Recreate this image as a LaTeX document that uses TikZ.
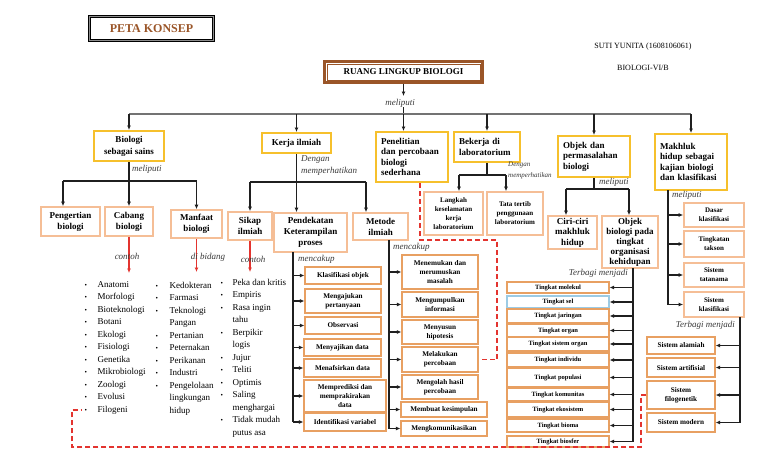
\documentclass[tikz,border=0pt]{standalone}
\usepackage{fontspec}
\setmainfont{Liberation Serif}
\usetikzlibrary{arrows.meta}
\definecolor{gold}{HTML}{F6C02C}
\definecolor{peach}{HTML}{F5BE96}
\definecolor{orng}{HTML}{E8A062}
\definecolor{brn}{HTML}{9A5528}
\definecolor{redd}{HTML}{E3342F}
\definecolor{lbl}{HTML}{3A3A3A}
\definecolor{skyb}{HTML}{9CCBE4}
\newcommand\lbul{{\fontsize{7}{7}\selectfont\textbullet}}
\begin{document}
\begin{tikzpicture}[x=1pt,y=-1pt,
  ln/.style={draw=black!88, line width=1.3pt},
  arr/.style={ln, -{Latex[length=4.5pt,width=4pt]}},
  bus/.style={draw=black!55, line width=1.8pt},
  rarr/.style={draw=redd, line width=1.2pt, -{Latex[length=4.5pt,width=4pt]}},
  rdash/.style={draw=redd, line width=1.6pt, dash pattern=on 5pt off 3pt},
  lab/.style={font=\itshape\fontsize{9}{12}\selectfont, text=lbl, inner sep=0pt},
  l1/.style={draw=gold, line width=2pt, font=\bfseries\fontsize{9}{12}\selectfont, align=center, inner sep=0pt},
  l1l/.style={draw=gold, line width=2pt, font=\bfseries\fontsize{9}{10.6}\selectfont, align=left, inner xsep=5pt, inner ysep=0pt},
  l2/.style={draw=peach, line width=1.6pt, font=\bfseries\fontsize{9}{11}\selectfont, align=center, inner sep=0pt},
  l2s/.style={draw=peach, line width=1.6pt, font=\bfseries\fontsize{7}{9}\selectfont, align=center, inner sep=0pt},
  l3/.style={draw=orng, line width=1.2pt, font=\bfseries\fontsize{7.2}{9}\selectfont, align=center, inner sep=0pt},
  tk/.style={draw=orng, line width=1.1pt, font=\bfseries\fontsize{6.5}{8}\selectfont, inner sep=0pt, minimum width=102pt},
  lst/.style={font=\fontsize{9}{12.5}\selectfont, inner sep=0pt, anchor=north west},
]
\fill[white] (0,0) rectangle (768,466);
\useasboundingbox (0,0) rectangle (768,466);

% header
\node[draw=black, line width=0.9pt, double=black!45, double distance=1.6pt, minimum width=124pt, minimum height=24pt, font=\bfseries\fontsize{12}{14}\selectfont, text=brn] (peta) at (151.5,28.5) {PETA KONSEP};
\node[font=\fontsize{8}{10}\selectfont] (suti) at (643,47) {SUTI YUNITA (1608106061)};
\node[font=\fontsize{8}{10}\selectfont] (kelas) at (643,68) {BIOLOGI-VI/B};
\node[draw=brn, line width=2.4pt, minimum width=158pt, minimum height=21pt, font=\bfseries\fontsize{9}{11}\selectfont] (ruang) at (403.5,72) {RUANG LINGKUP BIOLOGI};
\draw[brn, line width=0.6pt] ([shift={(3.5,3.5)}]ruang.north west) rectangle ([shift={(-3.5,-3.5)}]ruang.south east);

% top level boxes
\node[l1, minimum width=70pt, minimum height=30pt] (bss) at (129,146) {Biologi\\sebagai sains};
\node[l1, minimum width=69pt, minimum height=20pt] (kerja) at (296.5,143) {Kerja ilmiah};
\node[l1l, text width=62pt, minimum height=50pt] (pen) at (412,157) {Penelitian\\dan percobaan\\biologi\\sederhana};
\node[l1l, text width=56pt, minimum height=30pt] (bek) at (487,147) {Bekerja di\\laboratorium};
\node[l1l, text width=62pt, minimum height=41pt] (obj) at (594,156.5) {Objek dan\\permasalahan\\biologi};
\node[l1l, text width=62pt, minimum height=56pt] (mkh) at (691,162) {Makhluk\\hidup sebagai\\kajian biologi\\dan klasifikasi};

% top connectors
\coordinate (m0) at (403.5,96);
\draw[arr] (ruang.south) -- (m0);
\node[lab] (mel0) at (400,103) {meliputi};
\coordinate (busc) at (403.5,114);
\coordinate (busL) at (129,114);
\coordinate (busR) at (691,114);
\draw[ln] (mel0.south -| busc) -- (busc);
\draw[bus] (busL) -- (busR);
\draw[arr] (bss.north |- busL) -- (bss.north);
\draw[arr] (kerja.north |- busL) -- (kerja.north);
\draw[arr] (busc) -- (busc |- pen.north);
\draw[arr] (bek.north |- busL) -- (bek.north);
\draw[arr] (obj.north |- busL) -- (obj.north);
\draw[arr] (mkh.north |- busL) -- (mkh.north);

% Biologi sebagai sains
\node[l2, minimum width=59pt, minimum height=29pt] (peng) at (70.5,221.5) {Pengertian\\biologi};
\node[l2, minimum width=48pt, minimum height=29pt] (cab) at (129,221.5) {Cabang\\biologi};
\node[l2, minimum width=51pt, minimum height=28pt] (manf) at (196.5,224) {Manfaat\\biologi};
\coordinate (b1) at (129,181);
\coordinate (b1L) at (63,181);
\coordinate (b1R) at (196.5,181);
\draw[ln] (bss.south) -- (b1);
\node[lab, anchor=west] (mel1) at (132,169) {meliputi};
\draw[ln] (b1L) -- (b1R);
\draw[arr] (b1L) -- (b1L |- peng.north);
\draw[arr] (b1) -- (cab.north);
\draw[arr] (b1R) -- (manf.north);

\coordinate (r1) at (129,273);
\coordinate (r2) at (196.5,272);
\coordinate (r3) at (250,272);
\draw[rarr] (cab.south) -- (r1);
\draw[rarr] (manf.south) -- (r2);
\node[lab] (ct1) at (127,256) {contoh};
\node[lab] (ct2) at (208,257) {di bidang};

% Kerja ilmiah
\node[l2, minimum width=44pt, minimum height=28pt] (sikap) at (250,226) {Sikap\\ilmiah};
\node[l2, minimum width=73pt, minimum height=39pt] (pend) at (310.5,232.5) {Pendekatan\\Keterampilan\\proses};
\node[l2, minimum width=55pt, minimum height=27pt] (met) at (380.5,226.5) {Metode\\ilmiah};
\coordinate (k1) at (296.5,182);
\coordinate (k1L) at (250,182);
\coordinate (k1R) at (366,182);
\draw[ln] (kerja.south) -- (k1);
\node[lab, anchor=west, align=left] (dm1) at (301,166) {Dengan\\memperhatikan};
\draw[ln] (k1L) -- (k1R);
\draw[arr] (k1L) -- (sikap.north);
\draw[arr] (k1) -- (k1 |- pend.north);
\draw[arr] (k1R) -- (k1R |- met.north);
\draw[rarr] (sikap.south) -- (r3);
\node[lab] (ct3) at (253,259) {contoh};

% Bekerja di laboratorium
\node[l2s, minimum width=59pt, minimum height=43pt] (lang) at (453.5,213.5) {Langkah\\keselamatan\\kerja\\laboratorium};
\node[l2s, minimum width=56pt, minimum height=43pt] (tata) at (515,213.5) {Tata tertib\\penggunaan\\laboratorium};
\coordinate (e1) at (487,175);
\coordinate (e1L) at (459,175);
\coordinate (e1R) at (506,175);
\draw[ln, line width=2pt] (bek.south) -- (e1);
\draw[ln] (e1L) -- (e1R);
\draw[arr] (e1L) -- (e1L |- lang.north);
\draw[arr] (e1R) -- (e1R |- tata.north);
\node[lab, anchor=west, align=left, font=\itshape\fontsize{7}{11}\selectfont] (dm2) at (508,170.5) {Dengan\\memperhatikan};

% Objek dan permasalahan
\node[l2, minimum width=49pt, minimum height=33pt, font=\bfseries\fontsize{9}{10.5}\selectfont] (ciri) at (572.5,232.5) {Ciri-ciri\\makhluk\\hidup};
\node[l2, minimum width=56pt, minimum height=52pt, font=\bfseries\fontsize{9}{10}\selectfont] (objb) at (630,242) {Objek\\biologi pada\\tingkat\\organisasi\\kehidupan};
\coordinate (o1) at (594,189);
\coordinate (o1L) at (566,189);
\coordinate (o1R) at (629,189);
\draw[ln] (obj.south) -- (o1);
\node[lab, anchor=west] (mel2) at (599,182) {meliputi};
\draw[ln] (o1L) -- (o1R);
\draw[arr] (o1L) -- (o1L |- ciri.north);
\draw[arr] (o1R) -- (o1R |- objb.north);

% Tingkat
\node[tk, minimum height=11pt] (t1) at (558,287.5) {Tingkat molekul};
\node[tk, minimum height=12pt, draw=skyb] (t2) at (558,302) {Tingkat sel};
\node[tk, minimum height=14pt] (t3) at (558,316) {Tingkat jaringan};
\node[tk, minimum height=13pt] (t4) at (558,330.5) {Tingkat organ};
\node[tk, minimum height=14pt] (t5) at (558,344) {Tingkat sistem organ};
\node[tk, minimum height=14pt] (t6) at (558,360) {Tingkat individu};
\node[tk, minimum height=19pt] (t7) at (558,377.5) {Tingkat populasi};
\node[tk, minimum height=13pt] (t8) at (558,394.5) {Tingkat komunitas};
\node[tk, minimum height=15pt] (t9) at (558,409.5) {Tingkat ekosistem};
\node[tk, minimum height=13pt] (t10) at (558,425.5) {Tingkat bioma};
\node[tk, minimum height=11pt] (t11) at (558,441.5) {Tingkat biosfer};
\node[lab, anchor=east] (tm1) at (628,273) {Terbagi menjadi};
\coordinate (tT) at (633,268);
\coordinate (tB) at (633,441.5);
\draw[ln] (tT) -- (tB);
\foreach \n in {t1,t2,t3,t4,t5,t6,t7,t8,t9,t10,t11}
  \draw[arr] (tT |- \n.east) -- (\n.east);

% Makhluk hidup
\node[l2s, minimum width=60pt, minimum height=24pt] (dasar) at (714,215) {Dasar\\klasifikasi};
\node[l2s, minimum width=60pt, minimum height=26pt] (takson) at (714,244) {Tingkatan\\takson};
\node[l2s, minimum width=60pt, minimum height=24pt] (tatan) at (714,275) {Sistem\\tatanama};
\node[l2s, minimum width=60pt, minimum height=25pt] (sklas) at (714,304.5) {Sistem\\klasifikasi};
\coordinate (mT) at (668,190);
\coordinate (mB) at (668,304.5);
\draw[ln] (mT) -- (mB);
\node[lab, anchor=west] (mel3) at (672,195) {meliputi};
\foreach \n in {dasar,takson,tatan,sklas}
  \draw[arr] (mT |- \n.west) -- (\n.west);

\node[l3, minimum width=68pt, minimum height=17pt] (salam) at (681,345.5) {Sistem alamiah};
\node[l3, minimum width=68pt, minimum height=19pt] (sart) at (681,367.5) {Sistem artifisial};
\node[l3, minimum width=68pt, minimum height=28pt] (sfilo) at (681,395) {Sistem\\filogenetik};
\node[l3, minimum width=68pt, minimum height=19pt] (smod) at (681,422.5) {Sistem modern};
\node[lab, anchor=east] (tm2) at (735,325) {Terbagi menjadi};
\coordinate (sT) at (740,317);
\coordinate (sB) at (740,422.5);
\draw[ln] (sT) -- (sB);
\foreach \n in {salam,sart,sfilo,smod}
  \draw[arr] (sT |- \n.east) -- (\n.east);

% Pendekatan keterampilan proses
\node[l3, minimum width=76pt, minimum height=17pt] (p1) at (343,275.5) {Klasifikasi objek};
\node[l3, minimum width=76pt, minimum height=24pt] (p2) at (343,301) {Mengajukan\\pertanyaan};
\node[l3, minimum width=76pt, minimum height=17pt] (p3) at (343,325.5) {Observasi};
\node[l3, minimum width=77pt, minimum height=17pt] (p4) at (342.5,347.5) {Menyajikan data};
\node[l3, minimum width=77pt, minimum height=18pt] (p5) at (342.5,368) {Menafsirkan data};
\node[l3, minimum width=82pt, minimum height=32pt] (p6) at (345,396) {Memprediksi dan\\memprakirakan\\data};
\node[l3, minimum width=82pt, minimum height=18pt] (p7) at (345,422) {Identifikasi variabel};
\coordinate (pT) at (293,252);
\coordinate (pB) at (293,422);
\draw[ln] (pT) -- (pB);
\node[lab, anchor=west] (mc1) at (298,259) {mencakup};
\foreach \n in {p1,p2,p3,p4,p5,p6,p7}
  \draw[arr] (pT |- \n.west) -- (\n.west);

% Metode ilmiah
\node[l3, minimum width=76pt, minimum height=34pt] (q1) at (440,272) {Menemukan dan\\merumuskan\\masalah};
\node[l3, minimum width=76pt, minimum height=25pt] (q2) at (440,304.5) {Mengumpulkan\\informasi};
\node[l3, minimum width=76pt, minimum height=24pt] (q3) at (440,332) {Menyusun\\hipotesis};
\node[l3, minimum width=76pt, minimum height=25pt] (q4) at (440,359.5) {Melakukan\\percobaan};
\node[l3, minimum width=76pt, minimum height=24pt] (q5) at (440,387) {Mengolah hasil\\percobaan};
\node[l3, minimum width=86pt, minimum height=15pt] (q6) at (444,409.5) {Membuat kesimpulan};
\node[l3, minimum width=86pt, minimum height=15pt] (q7) at (444,428.5) {Mengkomunikasikan};
\coordinate (qT) at (389,240);
\coordinate (qB) at (389,428.5);
\draw[ln] (qT) -- (qB);
\node[lab, anchor=west] (mc2) at (393,247) {mencakup};
\foreach \n in {q1,q2,q3,q4,q5,q6,q7}
  \draw[arr] (qT |- \n.west) -- (\n.west);

% lists
\node[lst] (list1) at (84.5,278.5) {\begin{tabular}{@{}p{13pt}@{}l@{}}
\lbul & Anatomi\\ \lbul & Morfologi\\ \lbul & Bioteknologi\\ \lbul & Botani\\
\lbul & Ekologi\\ \lbul & Fisiologi\\ \lbul & Genetika\\ \lbul & Mikrobiologi\\
\lbul & Zoologi\\ \lbul & Evolusi\\ \lbul & Filogeni\end{tabular}};
\node[lst] (list2) at (155.5,279.5) {\begin{tabular}{@{}p{14pt}@{}l@{}}
\lbul & Kedokteran\\ \lbul & Farmasi\\ \lbul & Teknologi\\ & Pangan\\
\lbul & Pertanian\\ \lbul & Peternakan\\ \lbul & Perikanan\\ \lbul & Industri\\
\lbul & Pengelolaan\\ & lingkungan\\ & hidup\end{tabular}};
\node[lst] (list3) at (220.5,276.5) {\begin{tabular}{@{}p{12pt}@{}l@{}}
\lbul & Peka dan kritis\\ \lbul & Empiris\\ \lbul & Rasa ingin\\ & tahu\\
\lbul & Berpikir\\ & logis\\ \lbul & Jujur\\ \lbul & Teliti\\ \lbul & Optimis\\
\lbul & Saling\\ & menghargai\\ \lbul & Tidak mudah\\ & putus asa\end{tabular}};

% red dashed links
\coordinate (ra) at (420,240);
\coordinate (rb) at (497,240);
\draw[rdash] (pen.south -| ra) -- (ra) -- (rb) |- (q4.east);
\coordinate (rc) at (641,447);
\coordinate (rd) at (72,447);
\coordinate (re) at (72,410);
\coordinate (rf) at (82,410);
\draw[rdash] (sfilo.west) -| (rc) -- (rd) -- (re) -- (rf);
\end{tikzpicture}
\end{document}
